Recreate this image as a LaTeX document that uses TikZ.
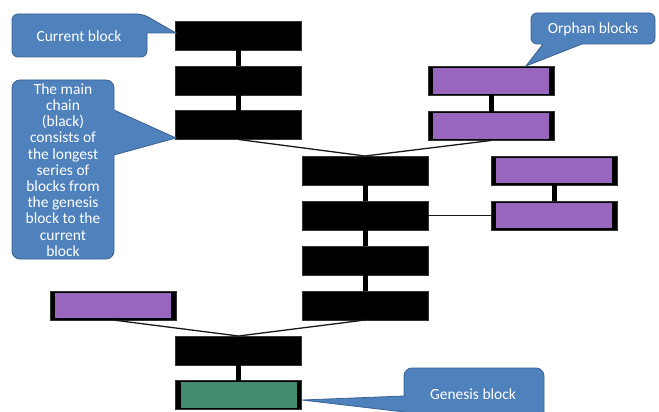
\documentclass[tikz,border=0pt]{standalone}
\usepackage{fontspec}
\setmainfont{Carlito}
\begin{document}
\begin{tikzpicture}[x=1pt,y=-1pt,
  blockbase/.style={minimum width=126pt,minimum height=29pt,inner sep=0pt,outer sep=0pt},
  mainblock/.style={blockbase,fill=black,draw=black!80,line width=0.6pt},
  tinted/.style={blockbase,fill=black,draw=black!80,line width=0.6pt,
    path picture={\fill[#1]
      ([xshift=5pt,yshift=1.6pt]path picture bounding box.south west) rectangle
      ([xshift=-5pt,yshift=-1.6pt]path picture bounding box.north east);}},
  orphan/.style={tinted=orphanpurple},
  genesis/.style={tinted=genesisgreen},
  link/.style={line width=5pt,black},
  fork/.style={line width=1.3pt,black!90},
  calloutbox/.style={fill=calloutblue,draw=calloutedge,line width=0.8pt},
  callouttext/.style={text=white,font=\fontsize{15.5}{16.2}\selectfont,align=center,inner sep=0pt}
]
\definecolor{orphanpurple}{RGB}{153,102,190}
\definecolor{genesisgreen}{RGB}{69,139,111}
\definecolor{calloutblue}{RGB}{79,129,189}
\definecolor{calloutedge}{RGB}{58,98,148}

\useasboundingbox (0,0) rectangle (659,412);

% main chain, upper column
\node[mainblock] (a1) at (238.5,36) {};
\node[mainblock] (a2) at (238.5,80.5) {};
\node[mainblock] (a3) at (238.5,125) {};
% main chain, middle column
\node[mainblock] (b1) at (365,170.5) {};
\node[mainblock] (b2) at (365,215.5) {};
\node[mainblock] (b3) at (365,260.5) {};
\node[mainblock] (b4) at (365,305.5) {};
% main chain, bottom
\node[mainblock] (c1) at (238.5,350.5) {};
\node[genesis]   (g)  at (238.5,395) {};
% orphan blocks
\node[orphan] (p1) at (491,81) {};
\node[orphan] (p2) at (491,126) {};
\node[orphan] (p3) at (554,170.5) {};
\node[orphan] (p4) at (554,215.5) {};
\node[orphan] (pl) at (113,305.5) {};

% stacked links
\draw[link] (a1.south) -- (a2.north);
\draw[link] (a2.south) -- (a3.north);
\draw[link] (b1.south) -- (b2.north);
\draw[link] (b2.south) -- (b3.north);
\draw[link] (b3.south) -- (b4.north);
\draw[link] (c1.south) -- (g.north);
\draw[link] (p1.south) -- (p2.north);
\draw[link] (p3.south) -- (p4.north);

% forks
\draw[fork] (a3.south) -- (b1.north);
\draw[fork] (p2.south) -- (b1.north);
\draw[fork] (pl.south) -- (c1.north);
\draw[fork] (b4.south) -- (c1.north);
\draw[fork] (b2.east) -- (p4.west);

% callouts
\draw[calloutbox,rounded corners=6pt]
  (12,14) -- (143,14) [sharp corners] -- (176,33) -- (147,33)
  [rounded corners=6pt] -- (147,57) -- (12,57) -- cycle;
\node[callouttext] (tcur) at (79,36) {Current block};

\draw[calloutbox,rounded corners=8pt]
  (12,80) -- (114,80) [sharp corners] -- (114,110) -- (176,138) -- (114,155)
  [rounded corners=8pt] -- (114,259) -- (12,259) -- cycle;
\node[callouttext] (tmain) at (63,170) {The main\\chain\\(black)\\consists of\\the longest\\series of\\blocks from\\the genesis\\block to the\\current\\block};

\draw[calloutbox,rounded corners=6pt]
  (531,13) -- (655,13) -- (655,44) [sharp corners] -- (582,44) -- (526,66) -- (543,44)
  [rounded corners=6pt] -- (531,44) -- cycle;
\node[callouttext] (torph) at (593,29) {Orphan blocks};

\draw[calloutbox,rounded corners=8pt]
  (404,368) -- (544,368) -- (544,424) -- (404,424) [sharp corners] -- (404,412)
  -- (302,400) -- (404,396) [rounded corners=8pt] -- cycle;
\node[callouttext] (tgen) at (473,394) {Genesis block};
\end{tikzpicture}
\end{document}
